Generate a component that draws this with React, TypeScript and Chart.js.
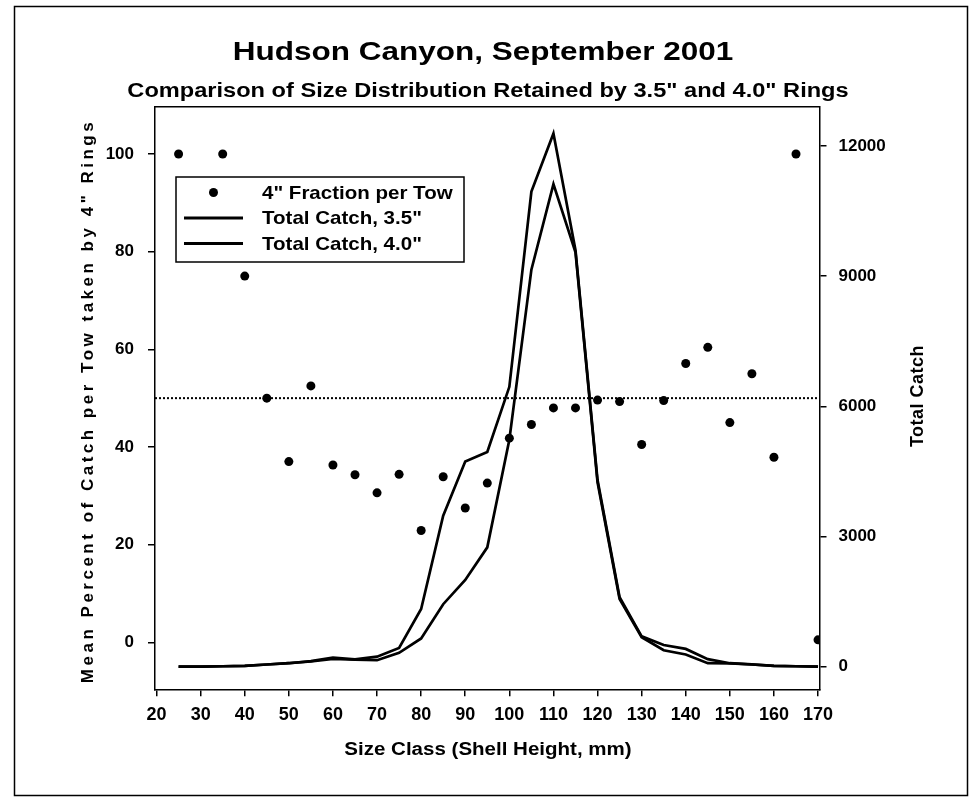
import React, { useEffect, useRef } from 'react';
import { Chart, registerables } from 'chart.js';

Chart.register(...registerables);

// ---------- data ----------
const sizeClasses = [25, 30, 35, 40, 45, 50, 55, 60, 65, 70, 75, 80, 85, 90, 95, 100, 105, 110, 115, 120, 125, 130, 135, 140, 145, 150, 155, 160, 165, 170];
const fraction4in: (number | null)[] = [100, null, 100, 75, 50, 37, 52.5, 36.3, 34.3, 30.6, 34.4, 22.9, 33.9, 27.5, 32.6, 41.8, 44.6, 48, 48, 49.6, 49.3, 40.5, 49.5, 57.1, 60.4, 45, 55, 37.9, 100, 0.5];
const catch35 = [0, 0, 10, 20, 50, 80, 130, 210, 170, 230, 430, 1330, 3480, 4730, 4950, 6450, 10950, 12290, 9600, 4300, 1600, 700, 500, 410, 175, 80, 55, 20, 10, 0];
const catch40 = [0, 0, 10, 20, 50, 80, 120, 180, 160, 150, 320, 650, 1440, 2000, 2750, 5230, 9150, 11120, 9550, 4250, 1560, 680, 380, 280, 80, 75, 50, 20, 10, 0];
const refLevel = 50;

const xTicks = [20, 30, 40, 50, 60, 70, 80, 90, 100, 110, 120, 130, 140, 150, 160, 170];
const leftTicks = [0, 20, 40, 60, 80, 100];
const rightTicks = [0, 3000, 6000, 9000, 12000];

const legendLabels = ['4" Fraction per Tow', 'Total Catch, 3.5"', 'Total Catch, 4.0"'];
const titleText = 'Hudson Canyon, September 2001';
const subtitleText = 'Comparison of Size Distribution Retained by 3.5" and 4.0" Rings';
const xTitle = 'Size Class (Shell Height, mm)';
const yLeftTitle = 'Mean Percent of Catch per Tow taken by 4" Rings';
const yRightTitle = 'Total Catch';

// axis ranges
const xMin = 19.65;
const xMax = 170.33;
const leftMin = -9.63;
const leftMax = 109.69;
const rightMin = -521;
const rightMax = 12906;

const FAMILY = '"Liberation Sans", Arial, sans-serif';

function stretchText(ctx: CanvasRenderingContext2D, text: string, x: number, y: number, font: string, sx: number, align: CanvasTextAlign) {
  ctx.save();
  ctx.font = font;
  ctx.textAlign = align;
  ctx.textBaseline = 'alphabetic';
  ctx.fillStyle = '#000';
  ctx.translate(x, y);
  ctx.scale(sx, 1);
  ctx.fillText(text, 0, 0);
  ctx.restore();
}

function vText(ctx: CanvasRenderingContext2D, text: string, x: number, y: number, font: string, spacing: string) {
  ctx.save();
  ctx.font = font;
  ctx.fillStyle = '#000';
  ctx.textAlign = 'center';
  ctx.textBaseline = 'middle';
  try { (ctx as any).letterSpacing = spacing; } catch (e) { /* ignore */ }
  ctx.translate(x, y);
  ctx.rotate(-Math.PI / 2);
  ctx.fillText(text, 0, 0);
  ctx.restore();
}

const decorPlugin = {
  id: 'decor',
  afterDraw(chart: any) {
    const ctx: CanvasRenderingContext2D = chart.ctx;
    const a = chart.chartArea;
    ctx.save();
    ctx.strokeStyle = '#000';
    ctx.lineWidth = 1.5;
    // outer frame
    ctx.strokeRect(14.5, 6.5, 953, 789);
    // plot top border
    ctx.beginPath();
    ctx.moveTo(a.left, a.top);
    ctx.lineTo(a.right, a.top);
    ctx.stroke();

    // titles
    stretchText(ctx, titleText, 483, 60, `bold 25px ${FAMILY}`, 1.26, 'center');
    stretchText(ctx, subtitleText, 488, 96.5, `bold 20px ${FAMILY}`, 1.18, 'center');
    stretchText(ctx, xTitle, 488, 755, `bold 18px ${FAMILY}`, 1.14, 'center');
    vText(ctx, yLeftTitle, 88, 401, `bold 17px ${FAMILY}`, '3.5px');
    vText(ctx, yRightTitle, 918, 396, `bold 18px ${FAMILY}`, '0.5px');

    // legend box
    const bx = 176, by = 177, bw = 288, bh = 85;
    ctx.fillStyle = '#fff';
    ctx.fillRect(bx, by, bw, bh);
    ctx.strokeRect(bx, by, bw, bh);
    const rows = [198.5, 224, 249.5];
    const datasets = chart.data.datasets.filter((d: any) => legendLabels.includes(d.label));
    datasets.forEach((d: any, i: number) => {
      const base = rows[i];
      const mid = base - 6;
      ctx.fillStyle = '#000';
      if (d.showLine === false) {
        ctx.beginPath();
        ctx.arc(213.5, mid, 4.5, 0, Math.PI * 2);
        ctx.fill();
      } else {
        ctx.lineWidth = 3;
        ctx.beginPath();
        ctx.moveTo(184, mid);
        ctx.lineTo(243, mid);
        ctx.stroke();
      }
      stretchText(ctx, d.label, 262, base, `bold 19px ${FAMILY}`, 1.08, 'left');
    });
    ctx.restore();
  },
};

export default function App() {
  const ref = useRef<HTMLCanvasElement>(null);

  useEffect(() => {
    const canvas = ref.current;
    if (!canvas) return;
    const tickFont = { family: FAMILY, size: 17, weight: 'bold' as const };
    const xTickFont = { family: FAMILY, size: 18, weight: 'bold' as const };
    const gridOpts = { drawOnChartArea: false, drawTicks: true, tickLength: 7, color: '#000', lineWidth: 1.5 };
    const borderOpts = { display: true, color: '#000', width: 1.5 };

    const chart = new Chart(canvas, {
      type: 'line',
      data: {
        datasets: [
          {
            label: legendLabels[0],
            data: sizeClasses
              .map((x, i) => ({ x, y: fraction4in[i] }))
              .filter((p) => p.y !== null) as any,
            yAxisID: 'yL',
            showLine: false,
            pointRadius: 4.5,
            pointBackgroundColor: '#000',
            pointBorderColor: '#000',
            pointBorderWidth: 0,
            borderColor: '#000',
          },
          {
            label: legendLabels[1],
            data: sizeClasses.map((x, i) => ({ x, y: catch35[i] })),
            yAxisID: 'yR',
            borderColor: '#000',
            borderWidth: 2.7,
            pointRadius: 0,
            tension: 0,
            fill: false,
          },
          {
            label: legendLabels[2],
            data: sizeClasses.map((x, i) => ({ x, y: catch40[i] })),
            yAxisID: 'yR',
            borderColor: '#000',
            borderWidth: 2.7,
            pointRadius: 0,
            tension: 0,
            fill: false,
          },
          {
            label: 'reference',
            data: [
              { x: xMin, y: refLevel },
              { x: xMax, y: refLevel },
            ],
            yAxisID: 'yL',
            borderColor: '#000',
            borderWidth: 2,
            borderDash: [2, 2],
            pointRadius: 0,
            fill: false,
          },
        ],
      },
      options: {
        responsive: false,
        animation: false,
        devicePixelRatio: 1,
        layout: { padding: { top: 106.7, left: 0, right: 0, bottom: 0 } },
        plugins: {
          legend: { display: false },
          tooltip: { enabled: false },
          title: { display: false },
        },
        scales: {
          x: {
            type: 'linear',
            min: xMin,
            max: xMax,
            afterBuildTicks: (s: any) => {
              s.ticks = xTicks.map((v) => ({ value: v }));
            },
            afterFit: (s: any) => {
              s.height = 801 - 689.3;
            },
            grid: gridOpts,
            border: borderOpts,
            ticks: {
              font: xTickFont,
              color: '#000',
              padding: 8,
              maxRotation: 0,
              autoSkip: false,
              callback: (v: any) => String(v),
            },
          },
          yL: {
            type: 'linear',
            position: 'left',
            min: leftMin,
            max: leftMax,
            afterBuildTicks: (s: any) => {
              s.ticks = leftTicks.map((v) => ({ value: v }));
            },
            afterFit: (s: any) => {
              s.width = 155;
            },
            grid: gridOpts,
            border: borderOpts,
            ticks: {
              font: tickFont,
              color: '#000',
              padding: 14,
              callback: (v: any) => String(v),
            },
          },
          yR: {
            type: 'linear',
            position: 'right',
            min: rightMin,
            max: rightMax,
            afterBuildTicks: (s: any) => {
              s.ticks = rightTicks.map((v) => ({ value: v }));
            },
            afterFit: (s: any) => {
              s.width = 976 - 819.5;
            },
            grid: gridOpts,
            border: borderOpts,
            ticks: {
              font: tickFont,
              color: '#000',
              padding: 12,
              callback: (v: any) => String(v),
            },
          },
        },
      } as any,
      plugins: [decorPlugin],
    });
    return () => chart.destroy();
  }, []);

  return (
    <div style={{ position: 'fixed', left: 0, top: 0, width: 976, height: 801, background: '#fff' }}>
      <canvas ref={ref} width={976} height={801} style={{ display: 'block', width: 976, height: 801 }} />
    </div>
  );
}
